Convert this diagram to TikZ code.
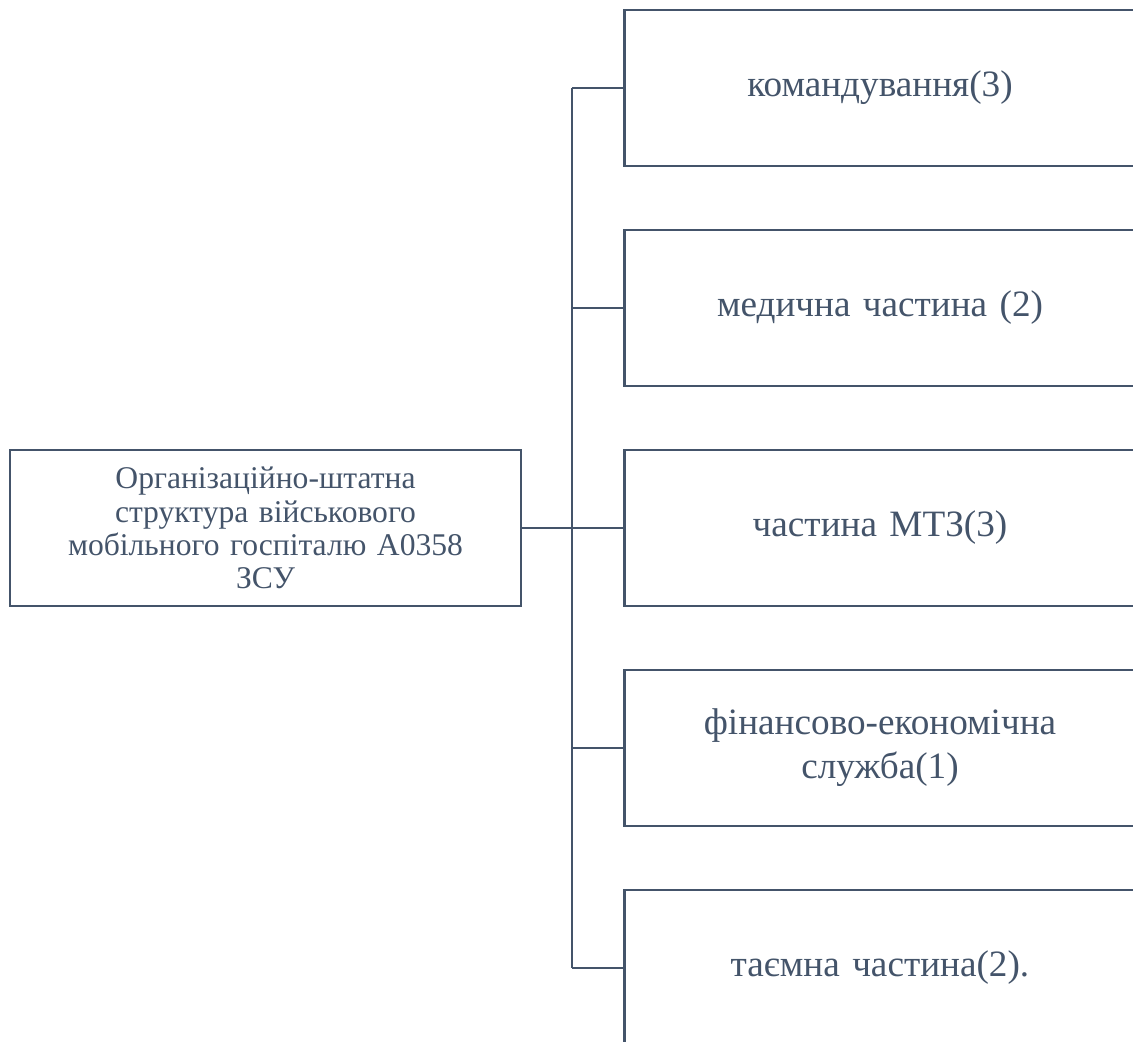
\documentclass[tikz,border=0pt]{standalone}
\usepackage{fontspec}
\setmainfont{Liberation Serif}
\usepackage{xcolor}
\usetikzlibrary{shapes}

\begin{document}
\begin{tikzpicture}[node distance = 110pt, auto]

	\definecolor{my_slate}{RGB}{68,84,106}

\tikzstyle{mainbox} = [rectangle, draw=my_slate, line width=1.4pt, text=my_slate, text width=250pt, text centered, minimum width=255.5pt, minimum height=78pt, inner sep=0pt, font=\fontsize{15.8pt}{16.6pt}\selectfont]
\tikzstyle{unit} = [mainbox, font=\fontsize{18.6pt}{22pt}\selectfont]
\tikzstyle{line} = [draw=my_slate, line width=1.1pt]

	\clip (0,0) rectangle (566.5pt,-520.5pt);
	\useasboundingbox (0,0) rectangle (566.5pt,-520.5pt);

	\node [mainbox] at (132.75pt,-264pt) (hospital) {Організаційно-штатна\\структура військового\\мобільного госпіталю А0358\\ЗСУ};

	\node [unit, right of=hospital, node distance=307.25pt] (logistics) {частина МТЗ(3)};
	\node [unit, above of=logistics] (medical) {медична частина (2)};
	\node [unit, above of=medical] (command) {командування(3)};
	\node [unit, below of=logistics] (finance) {фінансово-економічна\\служба(1)};
	\node [unit, below of=finance] (secret) {таємна частина(2).};

	\coordinate (bus) at (286pt,-264pt);

	\path [line, line width=1.4pt] (hospital) -- (bus);
	\path [line] (bus |- command.west) -- (bus |- secret.west);
	\path [line] (bus |- command.west) -- (command);
	\path [line] (bus |- medical.west) -- (medical);
	\path [line] (bus) -- (logistics);
	\path [line] (bus |- finance.west) -- (finance);
	\path [line] (bus |- secret.west) -- (secret);

\end{tikzpicture}
\end{document}
